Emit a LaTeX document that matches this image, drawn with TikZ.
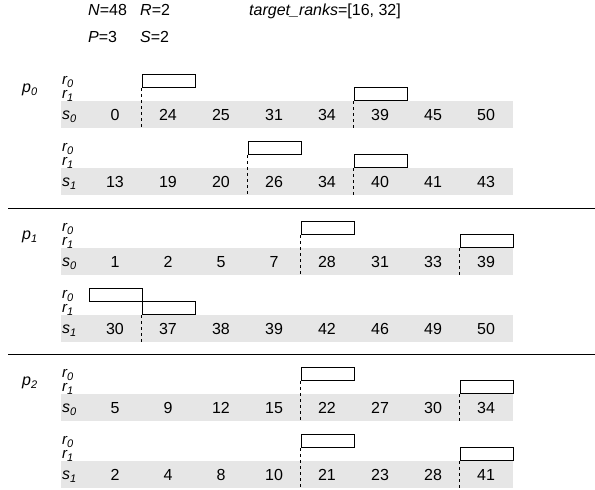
\documentclass[tikz,border=0pt]{standalone}
\usepackage{fontspec}
\setmainfont{Liberation Sans}
\usetikzlibrary{positioning}
\definecolor{band}{HTML}{E6E6E6}
\newcommand{\lsub}[1]{\raisebox{-3.5pt}{\fontsize{11}{12}\selectfont #1}}

\begin{document}
\begin{tikzpicture}[x=1pt,y=-1pt,
  txt/.style={font=\fontsize{16}{18}\selectfont, inner sep=0pt},
  rlab/.style={font=\fontsize{15}{17}\selectfont\itshape, inner sep=0pt, anchor=base west},
  bandrow/.style={fill=band, draw=none, inner sep=0pt, minimum width=451.5pt, minimum height=27pt, anchor=north west},
  cellbox/.style={draw=black, fill=white, line width=0.8pt, inner sep=0pt, minimum width=53pt, minimum height=13.5pt, anchor=south west},
  cut/.style={line width=0.8pt, dash pattern=on 3pt off 3pt}]
  \useasboundingbox (0,0) rectangle (595,490);

  % parameters
  \node[txt, anchor=base west] (hN) at (88,15) {\textit{N}=48};
  \node[txt, anchor=base west] (hR) at (140,15) {\textit{R}=2};
  \node[txt, anchor=base west] (hT) at (249,15) {\textit{target\_ranks}=[16, 32]};
  \node[txt, anchor=base west] (hP) at (88,42) {\textit{P}=3};
  \node[txt, anchor=base west] (hS) at (140,42) {\textit{S}=2};

  % processes
  \foreach \pid/\Y in {0/101,1/248,2/394}
    \node[txt, anchor=base west] (p\pid) at (22,\Y-9) {\itshape p\lsub{\pid}};
  \draw[line width=0.9pt] (8,208) -- (595,208);
  \draw[line width=0.9pt] (8,354) -- (595,354);

  % sequences: p / s / band top / values / col of r0 / col of r1
  \foreach \pid/\sid/\Y/\vals/\ca/\cb in {
      0/0/101/{0,24,25,31,34,39,45,50}/1/5,
      0/1/168/{13,19,20,26,34,40,41,43}/3/5,
      1/0/248/{1,2,5,7,28,31,33,39}/4/7,
      1/1/315/{30,37,38,39,42,46,49,50}/0/1,
      2/0/394/{5,9,12,15,22,27,30,34}/4/7,
      2/1/461/{2,4,8,10,21,23,28,41}/4/7}{
    \node[rlab] (ra\pid\sid) at (62,\Y-17) {r\lsub{0}};
    \node[rlab] (rb\pid\sid) at (62,\Y-3) {r\lsub{1}};
    \node[bandrow] (band\pid\sid) at (61,\Y) {};
    \node[txt, anchor=base west] (s\pid\sid) at (62,\Y+18) {\itshape s\lsub{\sid}};
    \foreach \v [count=\k from 0] in \vals
      \node[txt, anchor=base] (v\pid\sid-\k) at (115+53*\k,\Y+19) {\v};
    % split boxes
    \node[cellbox] (ca\pid\sid) at (88.5+53*\ca,\Y-13) {};
    \node[cellbox] (cb\pid\sid) at (88.5+53*\cb,\Y) {};
    \ifnum\ca>0
      \draw[cut] (ca\pid\sid.south west) -- (ca\pid\sid.south west |- band\pid\sid.south);
    \fi
    \draw[cut] (cb\pid\sid.south west) -- (cb\pid\sid.south west |- band\pid\sid.south);
  }
\end{tikzpicture}
\end{document}
